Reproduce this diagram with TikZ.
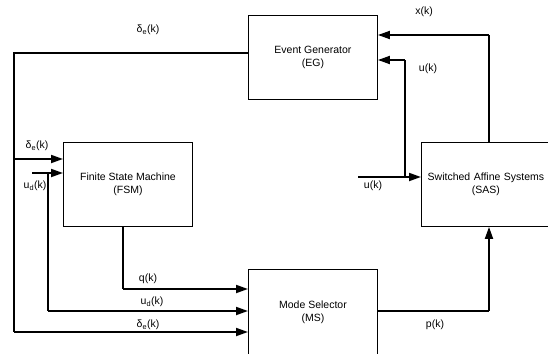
\documentclass[tikz,border=0pt]{standalone}
\usepackage{fontspec}
\setmainfont{Liberation Sans}
\usetikzlibrary{arrows.meta}
\begin{document}
\begin{tikzpicture}[x=1pt,y=-1pt,
  blk/.style={draw, line width=0.9pt, inner sep=0pt, anchor=north west, align=center, font=\fontsize{10.5}{13}\selectfont},
  sig/.style={line width=1.8pt},
  arr/.style={line width=1.8pt, -{Triangle[length=12pt,width=8pt]}},
  lbl/.style={font=\fontsize{10.5}{12}\selectfont, inner sep=0pt}]
\useasboundingbox (0,0) rectangle (548,353);
\node[blk, minimum width=129pt, minimum height=84pt] (eg) at (248,15) {Event Generator\\(EG)};
\node[blk, minimum width=129pt, minimum height=84pt] (fsm) at (63,142) {Finite State Machine\\(FSM)};
\node[blk, minimum width=129pt, minimum height=84pt, text width=125pt] (sas) at (421,142) {Switched Affine Systems\\(SAS)};
\node[blk, minimum width=129pt, minimum height=96pt, text depth=12pt] (ms) at (248,269) {Mode Selector\\(MS)};
% coordinates
\coordinate (c1) at (14,53);
\coordinate (c2) at (14,332);
\coordinate (c3) at (14,159);
\coordinate (ud0) at (32,173);
\coordinate (ud1) at (48,173);
\coordinate (ud2) at (48,311);
\coordinate (q1) at (123,289);
\coordinate (x1) at (489,35);
\coordinate (u0) at (358,177);
\coordinate (u1) at (405,177);
\coordinate (u2) at (405,60);
\coordinate (p1) at (489,311);
% connectors
\draw[sig] (eg.west |- c1) -- (c1) -- (c2);
\draw[arr] (c2) -- (ms.west |- c2);
\draw[arr] (c3) -- (fsm.west |- c3);
\draw[arr] (ud0) -- (fsm.west |- ud0);
\draw[sig] (ud1) -- (ud2);
\draw[arr] (ud2) -- (ms.west |- ud2);
\draw[sig] (fsm.south -| q1) -- (q1);
\draw[arr] (q1) -- (ms.west |- q1);
\draw[sig] (sas.north -| x1) -- (x1);
\draw[arr] (x1) -- (eg.east |- x1);
\draw[arr] (u0) -- (sas.west |- u0);
\draw[sig] (u1) -- (u2);
\draw[arr] (u2) -- (eg.east |- u2);
\draw[sig] (ms.east |- p1) -- (p1);
\draw[arr] (p1) -- (sas.south -| p1);
% labels
\node[lbl] (l1) at (148,30) {δ\textsubscript{e}(k)};
\node[lbl] (l2) at (37,146) {δ\textsubscript{e}(k)};
\node[lbl] (l3) at (35,186) {u\textsubscript{d}(k)};
\node[lbl] (l4) at (148,279) {q(k)};
\node[lbl] (l5) at (152,302) {u\textsubscript{d}(k)};
\node[lbl] (l6) at (148,325) {δ\textsubscript{e}(k)};
\node[lbl] (l7) at (424,12) {x(k)};
\node[lbl] (l8) at (428,69) {u(k)};
\node[lbl] (l9) at (373,186) {u(k)};
\node[lbl] (l10) at (435,325) {p(k)};
\end{tikzpicture}
\end{document}
